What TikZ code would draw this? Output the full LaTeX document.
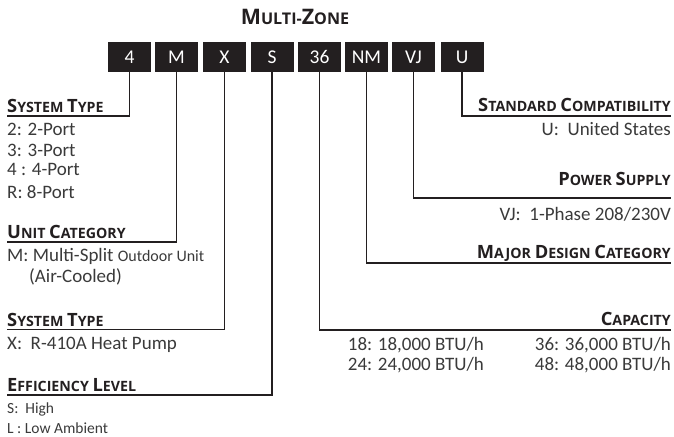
\documentclass[tikz,border=0pt]{standalone}
\usepackage{fontspec}
\setmainfont{Carlito}
\newfontfamily\hdfont{Open Sans}
\definecolor{ink}{HTML}{231F20}
\definecolor{body}{HTML}{3A3A3A}
\newcommand\Cp[1]{{\fontsize{18.3}{18.3}\selectfont #1}}
\newcommand\Tc[1]{{\fontsize{21.4}{21.4}\selectfont #1}}
\begin{document}
\begin{tikzpicture}[x=1pt,y=-1pt,
  codebox/.style={fill=ink,text=white,minimum width=43pt,minimum height=30pt,inner sep=0pt,font=\fontsize{19.5}{19.5}\selectfont},
  hd/.style={inner sep=0pt,text=ink,font=\hdfont\bfseries\fontsize{14.2}{14.2}\selectfont},
  bd/.style={inner sep=0pt,text=body,font=\fontsize{19}{19}\selectfont},
  sm/.style={inner sep=0pt,text=body,font=\fontsize{15.5}{15.5}\selectfont},
  ln/.style={draw=ink,line width=1.8pt}]
\useasboundingbox (0,0) rectangle (674,436);
% title
\node[inner sep=0pt,text=ink,font=\hdfont\bfseries\fontsize{16.1}{16.1}\selectfont,anchor=base] (title) at (295,25) {\Tc{M}ULTI-\Tc{Z}ONE};
% code boxes
\node[codebox] (b1) at (129.5,57) {4};
\node[codebox] (b2) at (176.5,57) {M};
\node[codebox] (b3) at (224.5,57) {X};
\node[codebox] (b4) at (272,57) {S};
\node[codebox] (b5) at (319.5,57) {36};
\node[codebox] (b6) at (366.5,57) {NM};
\node[codebox] (b7) at (413.5,57) {VJ};
\node[codebox] (b8) at (462,57) {U};
% underline ends
\coordinate (u1) at (7,116);
\coordinate (u2) at (7,242);
\coordinate (u3) at (7,329.5);
\coordinate (u4) at (7,395);
\coordinate (u5) at (671,330);
\coordinate (u6) at (671,263);
\coordinate (u7) at (671,198);
\coordinate (u8) at (671,116);
\draw[ln] (b1.south) |- (u1);
\draw[ln] (b2.south) |- (u2);
\draw[ln] (b3.south) |- (u3);
\draw[ln] (b4.south) |- (u4);
\draw[ln] (b5.south) |- (u5);
\draw[ln] (b6.south) |- (u6);
\draw[ln] (b7.south) |- (u7);
\draw[ln] (b8.south) |- (u8);
% left side
\node[hd,anchor=base west] (h1) at (7,112) {\Cp{S}YSTEM \Cp{T}YPE};
\node[bd,anchor=base west] (t1a) at (7,135.5) {2: 2-Port};
\node[bd,anchor=base west] (t1b) at (7,156.5) {3: 3-Port};
\node[bd,anchor=base west] (t1c) at (7,175) {4 : 4-Port};
\node[bd,anchor=base west] (t1d) at (7,198) {R: 8-Port};
\node[hd,anchor=base west] (h2) at (7,238) {\Cp{U}NIT \Cp{C}ATEGORY};
\node[bd,anchor=base west] (t2a) at (7,261.5) {M: Multi-Split {\fontsize{16}{16}\selectfont Outdoor Unit}};
\node[bd,anchor=base west] (t2b) at (29,282.5) {(Air-Cooled)};
\node[hd,anchor=base west] (h3) at (7,326) {\Cp{S}YSTEM \Cp{T}YPE};
\node[bd,anchor=base west] (t3a) at (7,349) {X:\ \ R-410A Heat Pump};
\node[hd,anchor=base west] (h4) at (7,391.5) {\Cp{E}FFICIENCY \Cp{L}EVEL};
\node[sm,anchor=base west] (t4a) at (7,413.5) {S:\ \ High};
\node[sm,anchor=base west] (t4b) at (7,433.5) {L : Low Ambient};
% right side
\node[hd,anchor=base east] (h8) at (671,111.5) {\Cp{S}TANDARD \Cp{C}OMPATIBILITY};
\node[bd,anchor=base east] (t8a) at (671,135) {U:\ \ United States};
\node[hd,anchor=base east] (h7) at (671,185) {\Cp{P}OWER \Cp{S}UPPLY};
\node[bd,anchor=base east] (t7a) at (671,220) {VJ:\ \ 1-Phase 208/230V};
\node[hd,anchor=base east] (h6) at (671,258) {\Cp{M}AJOR \Cp{D}ESIGN \Cp{C}ATEGORY};
\node[hd,anchor=base east] (h5) at (671,325) {\Cp{C}APACITY};
\node[bd,anchor=base east] (t5a) at (484,350) {18: 18,000 BTU/h};
\node[bd,anchor=base east] (t5b) at (484,370) {24: 24,000 BTU/h};
\node[bd,anchor=base east] (t5c) at (671,350) {36: 36,000 BTU/h};
\node[bd,anchor=base east] (t5d) at (671,370) {48: 48,000 BTU/h};
\end{tikzpicture}
\end{document}
